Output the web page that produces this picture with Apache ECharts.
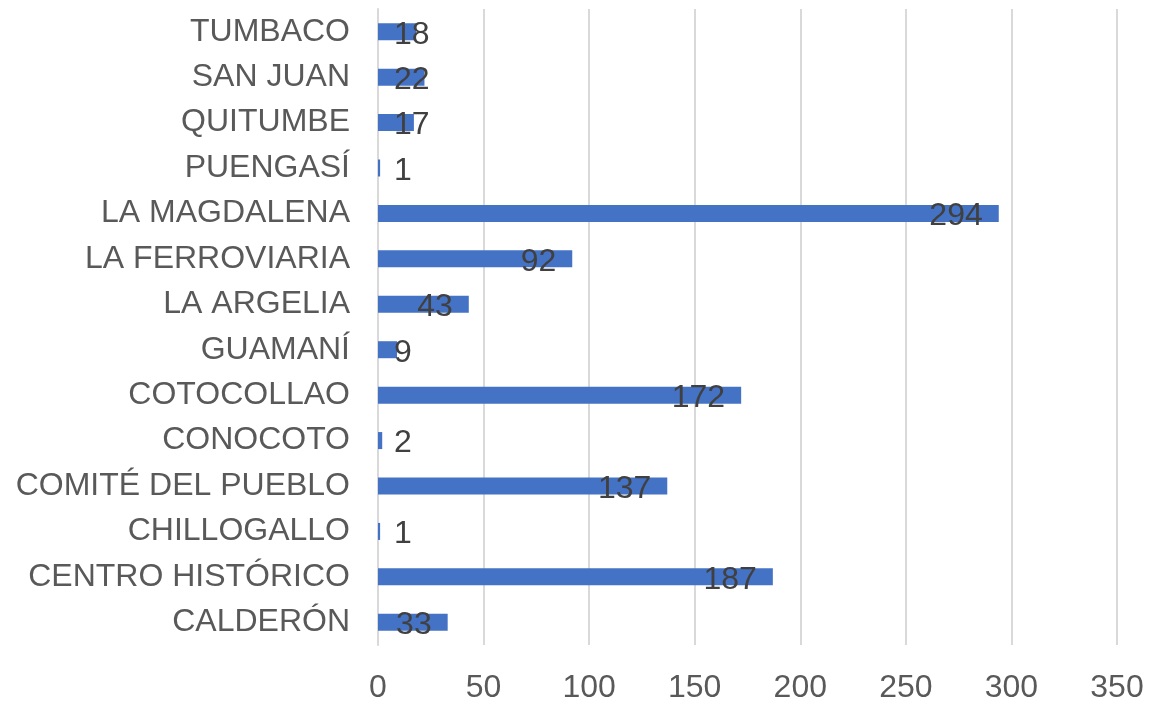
<!DOCTYPE html>
<html>
<head>
<meta charset="utf-8">
<script src="https://cdn.jsdelivr.net/npm/echarts@6/dist/echarts.min.js"></script>
<style>
html,body{margin:0;padding:0;background:#fff;}
#c{width:1170px;height:704px;}
</style>
</head>
<body>
<div id="c"></div>
<script>
const categories = ["CALDERÓN","CENTRO HISTÓRICO","CHILLOGALLO","COMITÉ DEL PUEBLO","CONOCOTO","COTOCOLLAO","GUAMANÍ","LA ARGELIA","LA FERROVIARIA","LA MAGDALENA","PUENGASÍ","QUITUMBE","SAN JUAN","TUMBACO"];
const values = [33,187,1,137,2,172,9,43,92,294,1,17,22,18];
const xTicks = [0,50,100,150,200,250,300,350];

const FONT = "Liberation Sans, Arial, sans-serif";
const chart = echarts.init(document.getElementById('c'));
const data = values.map(v => ({
  value: v,
  label: v >= 30
    ? {position: 'insideRight', distance: 16}
    : {position: 'insideLeft', distance: 16}
}));
chart.setOption({
  animation: false,
  grid: {left: 378, right: 53, top: 9, bottom: 56, containLabel: false},
  xAxis: {
    type: 'value',
    min: xTicks[0], max: xTicks[xTicks.length-1], interval: 50,
    axisLine: {show: false},
    axisTick: {show: false},
    splitLine: {show: true, lineStyle: {color: '#d9d9d9', width: 2}},
    axisLabel: {color: '#595959', fontSize: 32, fontFamily: FONT, margin: 27}
  },
  yAxis: {
    type: 'category',
    data: categories,
    axisLine: {show: true, lineStyle: {color: '#d9d9d9', width: 2}},
    axisTick: {show: false},
    axisLabel: {color: '#595959', fontSize: 32, fontFamily: FONT, margin: 28, padding: [7, 0, 0, 0]}
  },
  series: [{
    type: 'bar',
    data: data,
    barWidth: 17,
    itemStyle: {color: '#4472C4'},
    label: {show: true, color: '#404040', fontSize: 32, fontFamily: FONT, offset: [0, 3]}
  }]
});
</script>
</body>
</html>
